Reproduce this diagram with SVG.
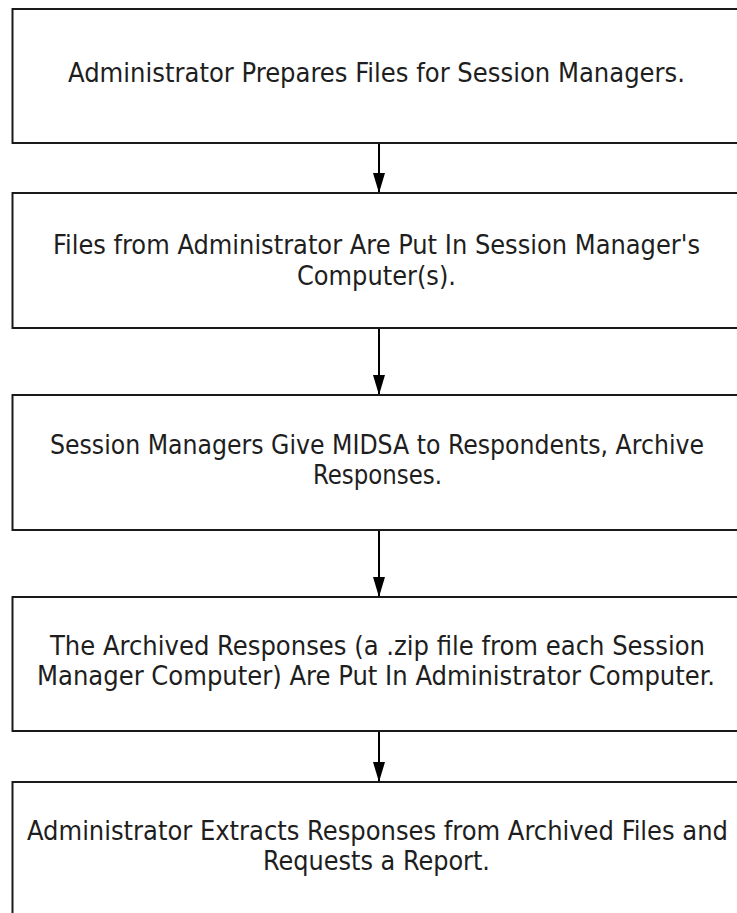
<svg xmlns="http://www.w3.org/2000/svg" width="737" height="913" viewBox="0 0 737 913">
<style>
.box{fill:#fff;stroke:#1a1a1a;stroke-width:2}
.t{font-family:"DejaVu Sans Condensed","DejaVu Sans",sans-serif;font-stretch:condensed;font-size:26px;fill:#1e1e1e}
.c{stroke:#000;stroke-width:2;fill:none}
</style>
<defs>
<marker id="ah" markerWidth="20" markerHeight="12" refX="20" refY="6" orient="auto" markerUnits="userSpaceOnUse" viewBox="0 0 20 12">
<path d="M0,0 L20,6 L0,12 z" fill="#000"/>
</marker>
</defs>
<rect width="737" height="913" fill="#fff"/>
<g id="connectors">
<line class="c" x1="379" y1="143" x2="379" y2="193" marker-end="url(#ah)"/>
<line class="c" x1="379" y1="328" x2="379" y2="395" marker-end="url(#ah)"/>
<line class="c" x1="379" y1="530" x2="379" y2="597" marker-end="url(#ah)"/>
<line class="c" x1="379" y1="731" x2="379" y2="782" marker-end="url(#ah)"/>
</g>
<g id="n1">
<rect class="box" x="12.5" y="9" width="740" height="134"/>
<text class="t" x="68" y="82" textLength="617" lengthAdjust="spacingAndGlyphs">Administrator Prepares Files for Session Managers.</text>
</g>
<g id="n2">
<rect class="box" x="12.5" y="193" width="740" height="135"/>
<text class="t" x="53" y="254" textLength="647" lengthAdjust="spacingAndGlyphs">Files from Administrator Are Put In Session Manager's</text>
<text class="t" x="297" y="285" textLength="159" lengthAdjust="spacingAndGlyphs">Computer(s).</text>
</g>
<g id="n3">
<rect class="box" x="12.5" y="395" width="740" height="135"/>
<text class="t" x="50" y="454" textLength="654" lengthAdjust="spacingAndGlyphs">Session Managers Give MIDSA to Respondents, Archive</text>
<text class="t" x="313" y="484" textLength="129" lengthAdjust="spacingAndGlyphs">Responses.</text>
</g>
<g id="n4">
<rect class="box" x="12.5" y="597" width="740" height="134"/>
<text class="t" x="50" y="655" textLength="655" lengthAdjust="spacingAndGlyphs">The Archived Responses (a .zip file from each Session</text>
<text class="t" x="37" y="685" textLength="678" lengthAdjust="spacingAndGlyphs">Manager Computer) Are Put In Administrator Computer.</text>
</g>
<g id="n5">
<rect class="box" x="12.5" y="782" width="740" height="150"/>
<text class="t" x="27" y="840" textLength="701" lengthAdjust="spacingAndGlyphs">Administrator Extracts Responses from Archived Files and</text>
<text class="t" x="263" y="870" textLength="227" lengthAdjust="spacingAndGlyphs">Requests a Report.</text>
</g>
</svg>
